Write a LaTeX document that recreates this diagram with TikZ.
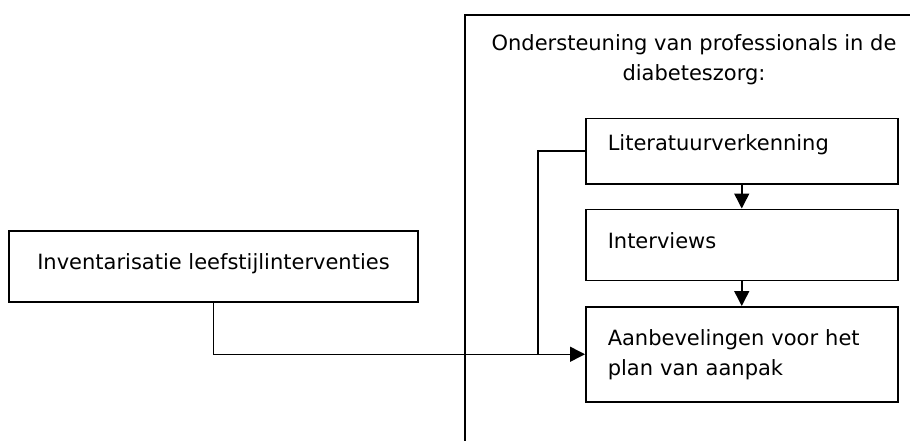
\documentclass[tikz,border=0pt]{standalone}
\usepackage{fontspec}
\setmainfont{DejaVu Sans}
\usetikzlibrary{arrows.meta,positioning}

\tikzset{
  tekst/.style={font=\fontsize{21}{30}\selectfont},
  blok/.style={draw, line width=1.5pt, rectangle, inner xsep=22pt, inner ysep=0pt,
    text width=268pt, align=left, tekst},
  pijl/.style={line width=1.5pt, -{Triangle[length=15pt,width=15pt]}}
}

\begin{document}
\begin{tikzpicture}[x=1pt,y=-1pt]
\useasboundingbox (0,0) rectangle (910,441);

% kader rechts
\coordinate (kaderonder) at (465,441);
\coordinate (kaderhoek) at (465,15);
\coordinate (kaderrechts) at (910,15);
\draw[line width=1.5pt] (kaderonder) -- (kaderhoek) -- (kaderrechts);

\node[align=center, tekst] (titel) at (694,60)
  {Ondersteuning van professionals in de\\diabeteszorg:};

\node[blok, minimum height=65pt, text depth=18pt, anchor=north west] (lit) at (585,118) {Literatuurverkenning};
\node[blok, minimum height=71pt, text depth=8pt, below=24pt of lit] (int) {Interviews};
\node[blok, minimum height=95pt, below=25pt of int] (aanb) {Aanbevelingen voor het\\plan van aanpak};

\node[draw, line width=1.5pt, minimum width=409pt, minimum height=71pt, text depth=10pt,
  tekst] (inv) at (213.5,266.5) {Inventarisatie leefstijlinterventies};

\draw[pijl] (lit) -- (int);
\draw[pijl] (int) -- (aanb);
\draw[pijl] (inv.south) |- (aanb.west);
\draw[line width=1.5pt] (lit.west) -| ([xshift=-47pt]aanb.west);

\end{tikzpicture}
\end{document}
